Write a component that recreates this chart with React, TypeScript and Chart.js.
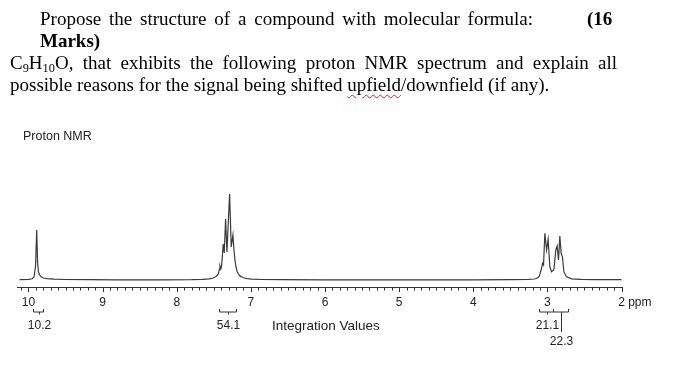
import React, { useEffect, useRef } from 'react';
import { Chart, registerables } from 'chart.js';

Chart.register(...registerables);

// ---- data ----
const spectrumPpm = [
  10.12, 10.0, 9.95, 9.925, 9.905, 9.889, 9.878, 9.865, 9.85, 9.83, 9.8, 9.75, 9.65, 9.5, 9.2, 8.8, 8.2, 7.8,
  7.65, 7.56, 7.508, 7.47, 7.44, 7.425, 7.417, 7.405, 7.395, 7.373, 7.359, 7.341, 7.323, 7.287, 7.265, 7.242,
  7.228, 7.215, 7.2, 7.184, 7.16, 7.148, 7.1, 7.05, 6.99, 6.85, 6.6, 6.0, 5.0, 4.0, 3.5, 3.25, 3.18, 3.146,
  3.111, 3.079, 3.065, 3.052, 3.034, 3.011, 2.99, 2.967, 2.944, 2.913, 2.886, 2.868, 2.85, 2.832, 2.814, 2.796,
  2.778, 2.742, 2.674, 2.55, 2.35, 2.0,
];
const spectrumIntensity = [
  0.4, 0.6, 1.2, 3, 14, 50, 18, 8, 5, 3.2, 2, 1.3, 0.8, 0.5, 0.3, 0.2, 0.2, 0.3,
  0.6, 1.2, 2, 3.5, 6, 11, 14, 11, 14, 36, 27, 61, 28, 86, 33, 45,
  30, 20, 13, 8, 5, 4, 2.2, 1.4, 0.9, 0.5, 0.3, 0.2, 0.2, 0.2, 0.4, 0.6, 1.0, 1.5,
  3.5, 11.7, 16.7, 15, 46.7, 30, 40.7, 13.3, 8.3, 10, 30, 34, 20, 44, 26.7, 22.7,
  8.3, 3.2, 1.2, 0.6, 0.4, 0.3,
];
const majorTickValues = [10, 9, 8, 7, 6, 5, 4, 3, 2];
const majorTickLabels = ['10', '9', '8', '7', '6', '5', '4', '3', '2'];
const axisUnit = 'ppm';
const integralStart = [9.943, 7.431, 3.111, 2.922];
const integralEnd = [9.8, 7.202, 2.922, 2.72];
const integralValues = ['10.2', '54.1', '21.1', '22.3'];

const SANS = '"Liberation Sans", Arial, Helvetica, sans-serif';
const SERIF = '"Liberation Serif", "Times New Roman", serif';

const axisPlugin = {
  id: 'nmrAxis',
  afterDraw(chart: any) {
    const ctx = chart.ctx;
    const xs = chart.scales.x;
    const area = chart.chartArea;
    const axisY = Math.round(area.bottom) + 0.5;
    ctx.save();
    ctx.strokeStyle = '#333';
    ctx.lineWidth = 1;
    ctx.beginPath();
    ctx.moveTo(area.left, axisY);
    ctx.lineTo(area.right, axisY);
    ctx.stroke();
    // ticks every 0.1 ppm
    for (let i = 101; i >= 20; i--) {
      const px = Math.round(xs.getPixelForValue(i / 10)) + 0.5;
      const major = i % 10 === 0;
      ctx.beginPath();
      ctx.moveTo(px, axisY);
      ctx.lineTo(px, axisY + (major ? 4.5 : 3));
      ctx.stroke();
    }
    // labels
    ctx.fillStyle = '#222';
    ctx.font = '12px ' + SANS;
    ctx.textBaseline = 'middle';
    ctx.textAlign = 'center';
    majorTickValues.forEach((v, i) => {
      const px = xs.getPixelForValue(v);
      ctx.fillText(majorTickLabels[i], px, axisY + 15);
      if (i === majorTickValues.length - 1) {
        const w = ctx.measureText(majorTickLabels[i]).width;
        ctx.textAlign = 'left';
        ctx.fillText(' ' + axisUnit, px + w / 2, axisY + 15);
        ctx.textAlign = 'center';
      }
    });
    // integrals
    const by = axisY + 24.5;
    let prevRight = -Infinity;
    integralStart.forEach((s, i) => {
      const x1 = Math.round(xs.getPixelForValue(s)) + 0.5;
      const x2 = Math.round(xs.getPixelForValue(integralEnd[i])) + 0.5;
      const cx = Math.round((x1 + x2) / 2) + 0.5;
      ctx.beginPath();
      ctx.moveTo(x1, by - 3);
      ctx.lineTo(x1, by);
      ctx.lineTo(x2, by);
      ctx.lineTo(x2, by - 3);
      ctx.stroke();
      const w = ctx.measureText(integralValues[i]).width;
      const row = cx - w / 2 < prevRight + 2 ? 1 : 0;
      const ly = by + 14 + row * 16;
      ctx.beginPath();
      ctx.moveTo(cx, by);
      ctx.lineTo(cx, row ? ly - 10 : by + 2.5);
      ctx.stroke();
      ctx.fillText(integralValues[i], cx, ly);
      if (!row) prevRight = cx + w / 2;
    });
    ctx.restore();
  },
};

export default function App() {
  const ref = useRef<HTMLCanvasElement>(null);
  useEffect(() => {
    document.body.style.margin = '0';
    const data = spectrumPpm.map((p, i) => ({ x: p, y: spectrumIntensity[i] }));
    const chart = new Chart(ref.current as HTMLCanvasElement, {
      type: 'line',
      data: {
        datasets: [
          {
            data,
            borderColor: '#3a3a3a',
            borderWidth: 1.2,
            pointRadius: 0,
            tension: 0,
            fill: false,
          },
        ],
      },
      options: {
        animation: false,
        responsive: false,
        devicePixelRatio: 1,
        layout: { padding: { left: 17, right: 65, top: 180, bottom: 82.7 } },
        plugins: { legend: { display: false }, tooltip: { enabled: false } },
        scales: {
          x: { type: 'linear', min: 1.98, max: 10.155, reverse: true, display: false },
          y: { type: 'linear', min: -7.3, max: 100, display: false },
        },
      },
      plugins: [axisPlugin],
    });
    return () => chart.destroy();
  }, []);

  const line: React.CSSProperties = {
    position: 'absolute',
    fontFamily: SERIF,
    fontSize: '19px',
    lineHeight: '22px',
    color: '#000',
    whiteSpace: 'nowrap',
  };
  const sub: React.CSSProperties = { fontSize: '0.65em', verticalAlign: '-0.25em', lineHeight: 0 };

  return (
    <div style={{ position: 'relative', width: 688, height: 370, background: '#fff', overflow: 'hidden' }}>
      <canvas ref={ref} width={688} height={370} style={{ position: 'absolute', left: 0, top: 0 }} />
      <div style={{ ...line, left: 40, top: 8, width: 493, textAlign: 'justify', textAlignLast: 'justify' }}>
        Propose the structure of a compound with molecular formula:
      </div>
      <div style={{ ...line, left: 587, top: 8, fontWeight: 'bold' }}>(16</div>
      <div style={{ ...line, left: 40, top: 30, fontWeight: 'bold' }}>Marks)</div>
      <div style={{ ...line, left: 10, top: 52, width: 607, textAlign: 'justify', textAlignLast: 'justify' }}>
        C<sub style={sub}>9</sub>H<sub style={sub}>10</sub>O, that exhibits the following proton NMR spectrum and explain all
      </div>
      <div style={{ ...line, left: 10, top: 74 }}>
        possible reasons for the signal being shifted{' '}
        <span style={{ textDecoration: 'underline wavy #e02020', textDecorationThickness: '1px', textUnderlineOffset: '3px' }}>upfield</span>
        /downfield (if any).
      </div>
      <div style={{ position: 'absolute', left: 23, top: 129, fontFamily: SANS, fontSize: '12.5px', lineHeight: '15px', color: '#222' }}>
        Proton NMR
      </div>
      <div style={{ position: 'absolute', left: 272, top: 318, fontFamily: SANS, fontSize: '13.5px', lineHeight: '16px', color: '#222' }}>
        Integration Values
      </div>
    </div>
  );
}
